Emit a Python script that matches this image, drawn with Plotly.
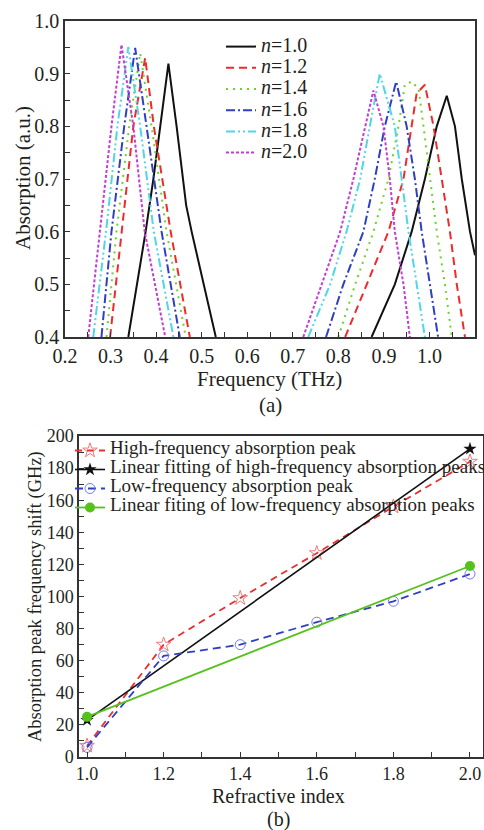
import plotly.graph_objects as go

# ---------------- (a) absorption spectra ----------------
freq_n10 = [0.339, 0.357, 0.377, 0.394, 0.409, 0.427, 0.445, 0.458, 0.466, 0.478, 0.504, 0.531, None,
            0.873, 0.924, 0.961, 0.990, 1.016, 1.038, 1.056, 1.071, 1.089, 1.100]
abs_n10 = [0.40, 0.496, 0.60, 0.70, 0.80, 0.919, 0.80, 0.70, 0.65, 0.60, 0.50, 0.40, None,
           0.40, 0.50, 0.60, 0.70, 0.80, 0.858, 0.80, 0.70, 0.60, 0.555]

freq_n12 = [0.299, 0.324, 0.350, 0.376, 0.395, 0.432, 0.474, None,
            0.815, 0.862, 0.910, 0.943, 0.961, 0.972, 0.990, 1.009, 1.027, 1.045, 1.060, 1.078]
abs_n12 = [0.40, 0.60, 0.80, 0.930, 0.80, 0.60, 0.40, None,
           0.40, 0.50, 0.60, 0.70, 0.80, 0.863, 0.879, 0.80, 0.70, 0.60, 0.50, 0.40]

freq_n14 = [0.291, 0.313, 0.341, 0.365, 0.390, 0.423, 0.465, None,
            0.800, 0.837, 0.877, 0.910, 0.932, 0.946, 0.961, 0.976, 0.987, 1.001, 1.016, 1.034, 1.049]
abs_n14 = [0.40, 0.60, 0.80, 0.939, 0.80, 0.60, 0.40, None,
           0.40, 0.50, 0.60, 0.70, 0.80, 0.879, 0.885, 0.871, 0.80, 0.70, 0.60, 0.50, 0.40]

freq_n16 = [0.280, 0.302, 0.330, 0.354, 0.379, 0.412, 0.452, None,
            0.773, 0.811, 0.855, 0.880, 0.902, 0.927, 0.950, 0.968, 0.983, 1.001, 1.019]
abs_n16 = [0.40, 0.60, 0.80, 0.949, 0.80, 0.60, 0.40, None,
           0.40, 0.50, 0.60, 0.70, 0.80, 0.885, 0.80, 0.70, 0.60, 0.50, 0.40]

freq_n18 = [0.262, 0.290, 0.315, 0.339, 0.365, 0.395, 0.438, None,
            0.734, 0.782, 0.818, 0.848, 0.869, 0.891, 0.924, 0.939, 0.954, 0.972, 0.990]
abs_n18 = [0.40, 0.60, 0.80, 0.951, 0.80, 0.60, 0.40, None,
           0.40, 0.50, 0.60, 0.70, 0.80, 0.900, 0.80, 0.70, 0.60, 0.50, 0.40]

freq_n20 = [0.251, 0.277, 0.302, 0.324, 0.350, 0.375, 0.420, None,
            0.723, 0.763, 0.804, 0.833, 0.859, 0.877, 0.899, 0.913, 0.924, 0.943, 0.957]
abs_n20 = [0.40, 0.60, 0.80, 0.955, 0.80, 0.60, 0.40, None,
           0.40, 0.50, 0.60, 0.70, 0.80, 0.868, 0.80, 0.70, 0.60, 0.50, 0.40]

labels_a = ["n=1.0", "n=1.2", "n=1.4", "n=1.6", "n=1.8", "n=2.0"]

# ---------------- (b) peak frequency shift ----------------
n_index = [1.0, 1.2, 1.4, 1.6, 1.8, 2.0]
high_shift = [7, 70, 99, 127, 156, 184]
low_shift = [6, 63, 70, 84, 97, 114]
fit_x = [1.0, 2.0]
high_fit = [23, 192]
low_fit = [25, 119]

labels_b = ["High-frequency absorption peak",
            "Linear fitting of high-frequency absorption peaks",
            "Low-frequency absorption peak",
            "Linear fiting of low-frequency absorption peaks"]

W, H = 484, 830
TXT = "#231f20"
FONT = "Liberation Serif"


def px(x):
    return x / W


def py(y):
    return 1 - y / H


def lab_a(s):
    n, v = s.split("=")
    return '<span style="font-size:20px"><i>%s</i>=%s</span>' % (n, v)


def lab_b(s):
    return '<span style="font-size:19px">%s</span>' % s


fig = go.Figure()

styles_a = [
    ("#111111", "solid"),
    ("#ee2b2b", "8px,5px"),
    ("#6fd12a", "2px,5px"),
    ("#2f3fc4", "9px,3px,2px,3px"),
    ("#50d6e6", "9px,3px,2px,3px,2px,3px"),
    ("#c23fd2", "3px,2px"),
]
series_a = [(freq_n10, abs_n10), (freq_n12, abs_n12), (freq_n14, abs_n14),
            (freq_n16, abs_n16), (freq_n18, abs_n18), (freq_n20, abs_n20)]
for (fx, ay), (col, dash), name in zip(series_a, styles_a, labels_a):
    fig.add_trace(go.Scatter(x=fx, y=ay, mode="lines", name=lab_a(name),
                             line=dict(color=col, width=2, dash=dash),
                             xaxis="x", yaxis="y", legend="legend"))

fig.add_trace(go.Scatter(x=n_index, y=high_shift, mode="lines+markers", name=lab_b(labels_b[0]),
                         line=dict(color="#e8302f", width=1.8, dash="7px,5px"),
                         marker=dict(symbol="star-open", size=11, color="#f07a7a", line=dict(width=1)),
                         xaxis="x2", yaxis="y2", legend="legend2"))
fig.add_trace(go.Scatter(x=fit_x, y=high_fit, mode="lines+markers", name=lab_b(labels_b[1]),
                         line=dict(color="#111111", width=1.6),
                         marker=dict(symbol="star", size=10, color="#111111"),
                         xaxis="x2", yaxis="y2", legend="legend2"))
fig.add_trace(go.Scatter(x=n_index, y=low_shift, mode="lines+markers", name=lab_b(labels_b[2]),
                         line=dict(color="#2f3fc4", width=1.8, dash="8px,5px"),
                         marker=dict(symbol="circle-open", size=10, color="#7b7be6", line=dict(width=1)),
                         xaxis="x2", yaxis="y2", legend="legend2"))
fig.add_trace(go.Scatter(x=fit_x, y=low_fit, mode="lines+markers", name=lab_b(labels_b[3]),
                         line=dict(color="#55c21b", width=1.8),
                         marker=dict(symbol="circle", size=10, color="#55c21b"),
                         xaxis="x2", yaxis="y2", legend="legend2"))

axis_common = dict(showline=True, linecolor="#333333", linewidth=1.5, mirror=True,
                   ticks="inside", ticklen=5, tickcolor="#333333", tickwidth=1,
                   showgrid=False, zeroline=False, automargin=False,
                   tickfont=dict(family=FONT, size=20, color=TXT))
font_b = dict(family=FONT, size=18, color=TXT)

fig.update_layout(
    width=W, height=H,
    margin=dict(l=0, r=0, t=0, b=0, autoexpand=False),
    paper_bgcolor="white", plot_bgcolor="white",
    font=dict(family=FONT, color=TXT),
    xaxis=dict(domain=[px(65), px(475)], range=[0.2, 1.1], dtick=0.1, tick0=0.2,
               tickformat=".1f", anchor="y",
               minor=dict(dtick=0.05, ticks="inside", ticklen=5, tickcolor="#333333"),
               **axis_common),
    yaxis=dict(domain=[py(337), py(21)], range=[0.4, 1.0], dtick=0.1, tick0=0.4,
               tickformat=".1f", anchor="x",
               minor=dict(dtick=0.05, ticks="inside", ticklen=5, tickcolor="#333333"),
               **axis_common),
    xaxis2=dict(domain=[px(79), px(483)], range=[0.979, 2.034], dtick=0.2, tick0=1.0,
                tickformat=".1f", anchor="y2",
                minor=dict(dtick=0.1, ticks="inside", ticklen=5, tickcolor="#333333"),
                **{**axis_common, "tickfont": font_b}),
    yaxis2=dict(domain=[py(757), py(436)], range=[0, 200], dtick=20, anchor="x2",
                minor=dict(dtick=10, ticks="inside", ticklen=5, tickcolor="#333333"),
                **{**axis_common, "tickfont": font_b}),
    legend=dict(x=px(221), y=py(31), xanchor="left", yanchor="top",
                bgcolor="rgba(0,0,0,0)", borderwidth=0,
                font=dict(family=FONT, size=14, color=TXT), itemwidth=30,
                tracegroupgap=0),
    legend2=dict(x=px(70), y=py(436), xanchor="left", yanchor="top",
                 bgcolor="rgba(0,0,0,0)", borderwidth=0,
                 font=dict(family=FONT, size=10, color=TXT), itemwidth=30,
                 tracegroupgap=0),
    showlegend=True,
)

ann = [
    ("Frequency (THz)", 269, 379, 0, 21),
    ("(a)", 270, 405, 0, 21),
    ("Absorption (a.u.)", 23, 178, -90, 21),
    ("Refractive index", 278, 796, 0, 20),
    ("(b)", 278, 819, 0, 20),
    ("Absorption peak frequency shift (GHz)", 35, 597, -90, 18.5),
]
for text, x, y, rot, size in ann:
    fig.add_annotation(text=text, x=px(x), y=py(y), xref="paper", yref="paper",
                       showarrow=False, textangle=rot, xanchor="center", yanchor="middle",
                       font=dict(family=FONT, size=size, color=TXT))

fig.write_html("out.html")
